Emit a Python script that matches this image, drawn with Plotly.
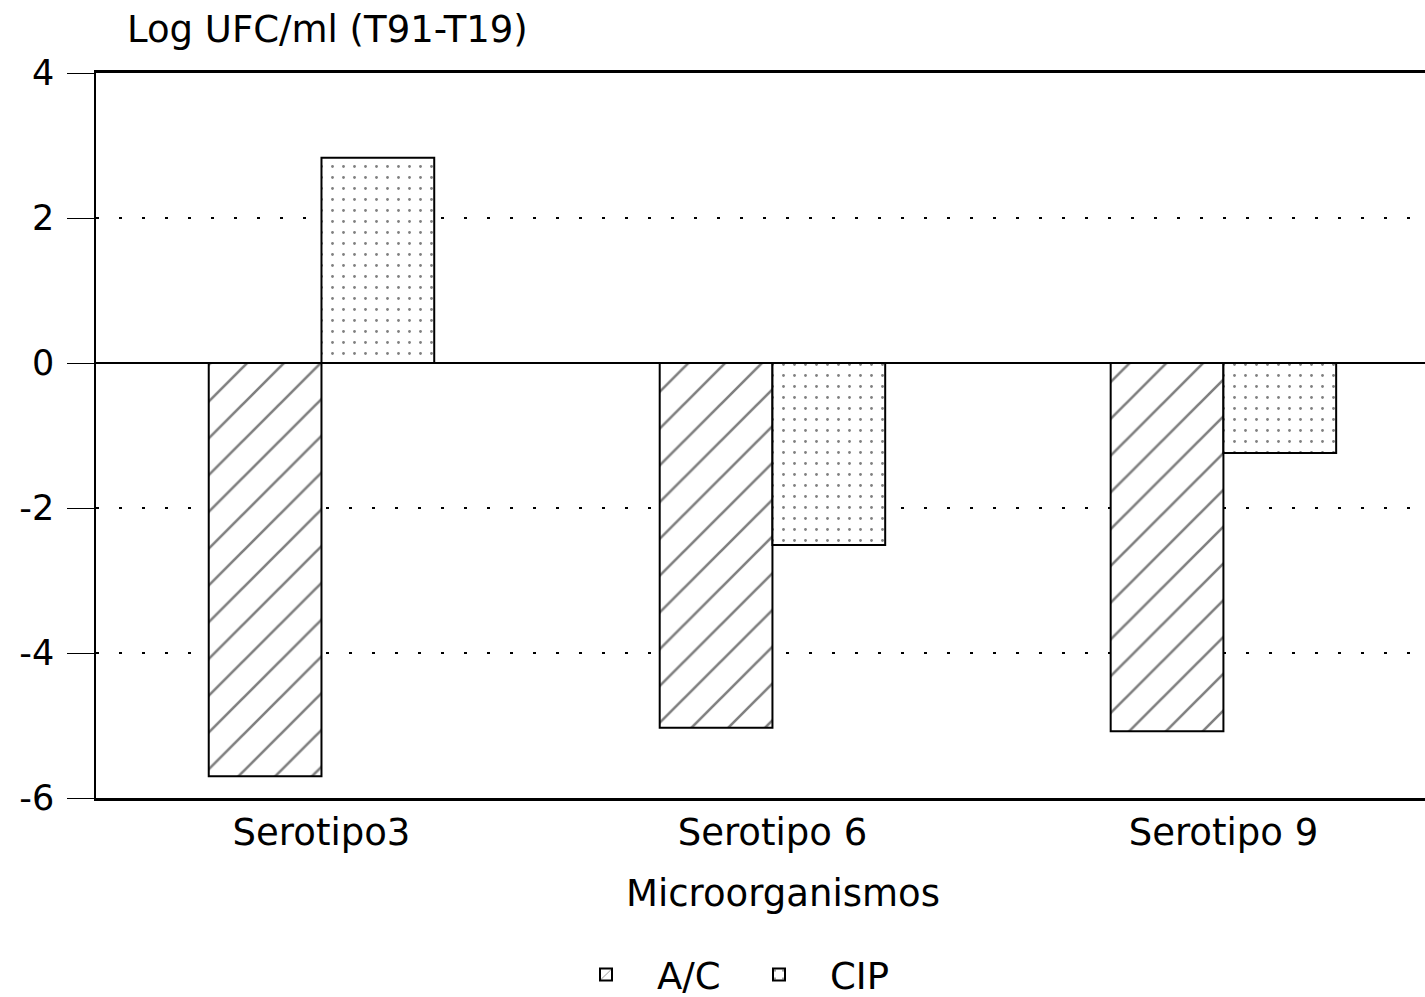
import plotly.graph_objects as go

# Bacterial count change per serotype, two treatments
serotypes = ["Serotipo3", "Serotipo 6", "Serotipo 9"]
ac_values = [-5.70, -5.03, -5.08]
cip_values = [2.83, -2.51, -1.24]
y_ticks = [-6, -4, -2, 0, 2, 4]

FONT = "DejaVu Sans, Liberation Sans, sans-serif"

fig = go.Figure()
fig.add_trace(go.Bar(
    name="A/C", x=serotypes, y=ac_values,
    marker=dict(color="white", line=dict(color="black", width=2),
                pattern=dict(shape="/", size=26, solidity=0.1,
                             fgcolor="black", bgcolor="white")),
))
fig.add_trace(go.Bar(
    name="CIP", x=serotypes, y=cip_values,
    marker=dict(color="white", line=dict(color="black", width=2),
                pattern=dict(shape=".", size=11, solidity=0.05,
                             fgcolor="black", bgcolor="white")),
))

fig.update_layout(
    width=1425, height=997,
    margin=dict(l=96, r=0, t=73, b=199, autoexpand=False),
    paper_bgcolor="white", plot_bgcolor="white",
    barmode="group", bargap=0.5, bargroupgap=0,
    font=dict(family=FONT, size=37, color="black"),
    showlegend=True,
    legend=dict(orientation="h", x=(555 - 96) / 1329, xanchor="left",
                y=-(975 - 798) / 725, yanchor="middle",
                font=dict(size=37), itemwidth=92, entrywidth=66,
                bgcolor="rgba(0,0,0,0)"),
    xaxis=dict(
        range=[-0.5, 2.447], showgrid=False, ticks="",
        showline=True, linecolor="black", linewidth=2.5, mirror=True,
        tickfont=dict(size=37), ticklabelstandoff=0,
        zeroline=False,
    ),
    yaxis=dict(
        range=[-6, 4], tickvals=y_ticks, ticktext=[str(v) for v in y_ticks],
        showline=True, linecolor="black", linewidth=1.5,
        ticks="outside", ticklen=27, tickwidth=1, tickcolor="black",
        ticklabelstandoff=6, tickfont=dict(size=35),
        showgrid=True, gridcolor="black", gridwidth=1.5,
        griddash="3px,20px",
        zeroline=True, zerolinecolor="black", zerolinewidth=2,
    ),
    annotations=[
        dict(text="Log UFC/ml (T91-T19)", xref="paper", yref="paper",
             x=(125 - 96) / 1329, y=1 + (73 - 30) / 725,
             xanchor="left", yanchor="middle", showarrow=False,
             font=dict(size=37)),
        dict(text="Microorganismos", xref="paper", yref="paper",
             x=(783 - 96) / 1329, y=-(893 - 798) / 725,
             xanchor="center", yanchor="middle", showarrow=False,
             font=dict(size=37)),
    ],
)

fig.write_html("out.html")
